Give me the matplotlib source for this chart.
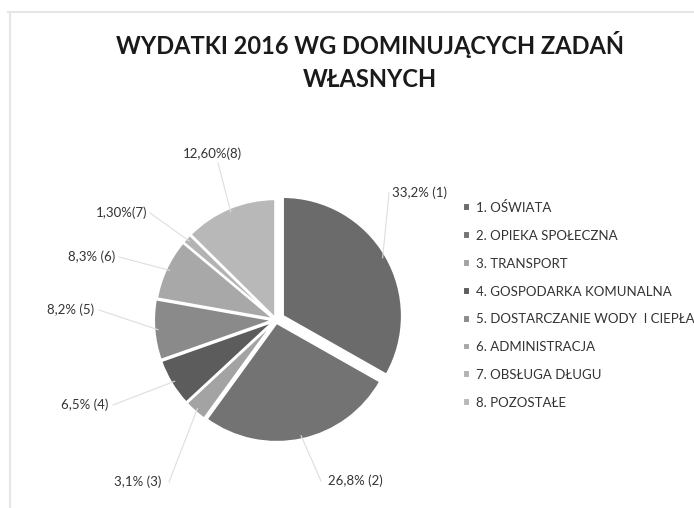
import numpy as np
import matplotlib.pyplot as plt
from matplotlib.lines import Line2D

plt.rcParams['font.family'] = ['Lato', 'DejaVu Sans']

categories = ["1. OŚWIATA", "2. OPIEKA SPOŁECZNA", "3. TRANSPORT",
              "4. GOSPODARKA KOMUNALNA", "5. DOSTARCZANIE WODY  I CIEPŁA",
              "6. ADMINISTRACJA", "7. OBSŁUGA DŁUGU", "8. POZOSTAŁE"]
shares = [33.2, 26.8, 3.1, 6.5, 8.2, 8.3, 1.3, 12.6]
value_labels = ["33,2% (1)", "26,8% (2)", "3,1% (3)", "6,5% (4)",
                "8,2% (5)", "8,3% (6)", "1,30%(7)", "12,60%(8)"]
colors = ["#6b6b6b", "#737373", "#a3a3a3", "#5c5c5c",
          "#8a8a8a", "#a8a8a8", "#b3b3b3", "#b8b8b8"]

W, H = 694, 508
fig = plt.figure(figsize=(W / 100, H / 100), dpi=100)
ax = fig.add_axes([0, 0, 1, 1])

# pie in pixel-like coordinates (y up)
cx, cy, r = 276, H - 320, 119
explode = [8, 3, 3, 3, 3, 2, 2, 2]
wedges, _ = ax.pie(shares, colors=colors, startangle=90, counterclock=False,
                   center=(cx, cy), radius=r, explode=explode,
                   wedgeprops=dict(edgecolor="white", linewidth=1.5))
ax.set_xlim(0, W)
ax.set_ylim(0, H)
ax.set_aspect("equal")
ax.axis("off")

# label text positions (px from top-left)
label_pos = [(420, 193), (355, 481), (138, 482), (85, 405),
             (71, 310), (92, 257), (122, 213), (212, 154)]
line_end = [(389, 193), (321, 481), (169, 482), (113, 405),
            (99, 310), (119, 257), (150, 213), (218, 163)]
for w, lab, (tx, ty), (lx, ly) in zip(wedges, value_labels, label_pos, line_end):
    th = np.deg2rad((w.theta1 + w.theta2) / 2)
    px = w.center[0] + w.r * 0.97 * np.cos(th)
    py = w.center[1] + w.r * 0.97 * np.sin(th)
    ax.plot([lx, px], [H - ly, py], color="#dedede", lw=0.8)
    ax.text(tx, H - ty, lab, ha="center", va="center", fontsize=9.5, color="#333333")

ax.legend(wedges, categories, loc="upper left",
          bbox_to_anchor=(463 / W, 1 - 201 / H), bbox_transform=fig.transFigure,
          frameon=False, fontsize=9.5, labelspacing=1.2, handlelength=0.55,
          handleheight=0.55, handletextpad=0.4, borderpad=0, borderaxespad=0,
          labelcolor="#333333")

fig.text(370 / W, 1 - 45 / H, "WYDATKI 2016 WG DOMINUJĄCYCH ZADAŃ", ha="center",
         va="center", fontsize=17, fontweight="bold", color="#1a1a1a")
fig.text(370 / W, 1 - 80 / H, "WŁASNYCH", ha="center", va="center",
         fontsize=17, fontweight="bold", color="#1a1a1a")

# light chart border
fig.add_artist(Line2D([8 / W, 1], [1 - 12 / H, 1 - 12 / H], color="#e6e6e6", lw=1.5))
fig.add_artist(Line2D([10 / W, 10 / W], [0, 1 - 12 / H], color="#e6e6e6", lw=1.5))

fig.savefig("out.png", dpi=100)
